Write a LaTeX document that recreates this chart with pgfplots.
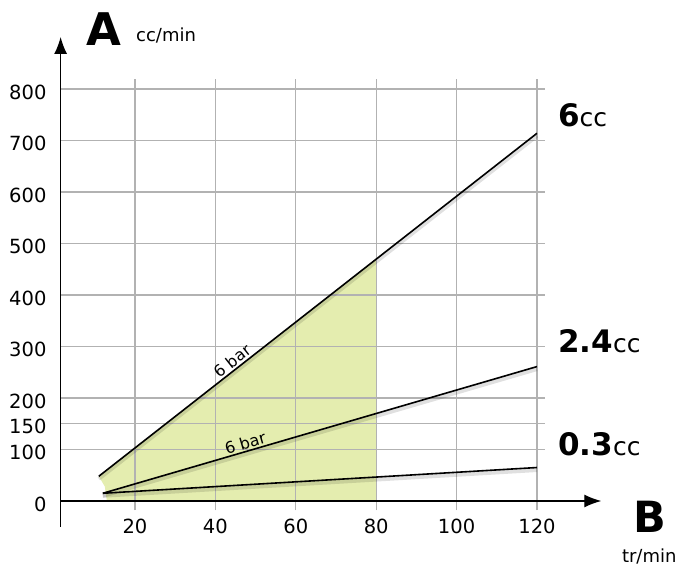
\documentclass[border=0pt]{standalone}
\usepackage{pgfplots}
\pgfplotsset{compat=1.18}
\usetikzlibrary{arrows.meta}
\usepackage{fontspec}
\setmainfont{DejaVu Sans}
\definecolor{fillgreen}{RGB}{228,237,175}
\definecolor{gridgray}{RGB}{178,178,178}
\begin{document}
\begin{tikzpicture}
\begin{axis}[
  x=4.02pt, y=0.515pt,
  xmin=1.5, xmax=122, ymin=-18, ymax=820,
  set layers, clip=false,
  axis line style={draw=none},
  major tick length=0pt,
  xtick={20,40,...,120},
  ytick={0,100,150,200,300,400,500,600,700,800},
  grid=major,
  major grid style={gridgray, line width=1.1pt},
  /pgf/number format/assume math mode=true,
  ticklabel style={font=\fontsize{19.5}{21}\selectfont},
  xticklabel style={inner sep=0pt, anchor=north, yshift=-9pt},
  yticklabel style={inner sep=0pt, anchor=east, xshift=-14pt, yshift=-3pt},
]
% green operating area
\addplot[on layer=axis background, fill=fillgreen, draw=none]
  coordinates {(13,0) (12.5,28) (11,48) (80,470) (80,0)} -- cycle;

% shadows
\addplot[black, opacity=0.12, line width=4pt, yshift=-2.5pt] coordinates {(11,48) (120,714)};
\addplot[black, opacity=0.12, line width=4pt, yshift=-2.5pt] coordinates {(12,15) (120,261)};
\addplot[black, opacity=0.12, line width=4pt, yshift=-2.5pt] coordinates {(12,15) (120,65)};

% pump lines
\addplot[black, line width=1.6pt] coordinates {(11,48) (120,714)};
\addplot[black, line width=1.6pt] coordinates {(12,15) (120,261)};
\addplot[black, line width=1.6pt] coordinates {(12,15) (120,65)};

% axes with arrows
\draw[black, line width=1.3pt, -{Latex[length=17pt,width=13pt]}] (axis cs:1.5,0) -- (axis cs:136,0);
\draw[black, line width=1.3pt, -{Latex[length=17pt,width=13pt]}] (axis cs:1.5,-50) -- (axis cs:1.5,901);

% labels on lines
\node[rotate=38, anchor=south, inner sep=2pt, font=\fontsize{16}{17}\selectfont] at (axis cs:45.5,259) {6 bar};
\node[rotate=16.3, anchor=south, inner sep=2pt, font=\fontsize{16}{17}\selectfont] at (axis cs:48,97) {6 bar};

% right labels
\node[anchor=base west, inner sep=0pt] at (axis cs:125.2,728) {\fontsize{31}{31}\selectfont\bfseries 6\mdseries\fontsize{25}{25}\selectfont cc};
\node[anchor=base west, inner sep=0pt] at (axis cs:125.2,289) {\fontsize{31}{31}\selectfont\bfseries 2.4\mdseries\fontsize{25}{25}\selectfont cc};
\node[anchor=base west, inner sep=0pt] at (axis cs:125.2,89.3) {\fontsize{31}{31}\selectfont\bfseries 0.3\mdseries\fontsize{25}{25}\selectfont cc};

% axis titles
\node[anchor=base west, inner sep=0pt, font=\fontsize{45}{45}\selectfont\bfseries] at (axis cs:8,885.4) {A};
\node[anchor=base west, inner sep=0pt, font=\fontsize{18}{18}\selectfont] at (axis cs:20.25,891.8) {cc/min};
\node[anchor=base west, inner sep=0pt, font=\fontsize{43}{43}\selectfont\bfseries] at (axis cs:143.9,-62.1) {B};
\node[anchor=base west, inner sep=0pt, font=\fontsize{18}{18}\selectfont] at (axis cs:141.1,-118.5) {tr/min};

\coordinate (bbl) at (axis cs:-13.58,-128.2);
\coordinate (btr) at (axis cs:156.07,972.8);
\end{axis}
\pgfresetboundingbox
\path (bbl) rectangle (btr);
\end{tikzpicture}
\end{document}
